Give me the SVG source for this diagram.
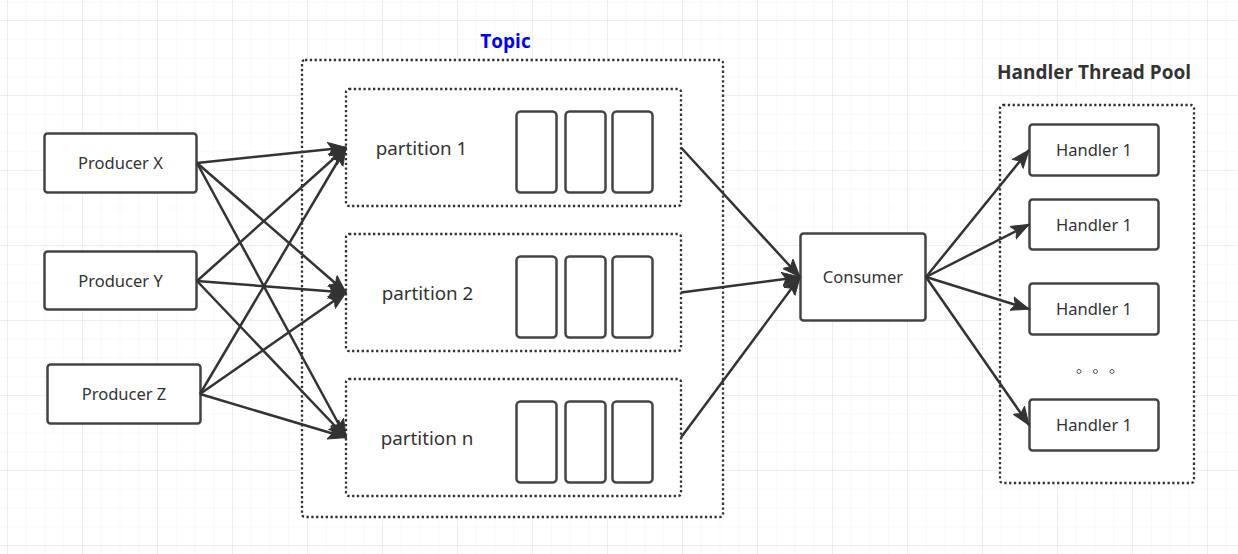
<svg xmlns="http://www.w3.org/2000/svg" width="1238" height="554" viewBox="0 0 1238 554">
<defs>
<pattern id="minor" x="7" y="1.25" width="18.75" height="18.75" patternUnits="userSpaceOnUse">
<path d="M0,0 V18.75 M0,0 H18.75" fill="none" stroke="#f1f1f1" stroke-width="1"/>
</pattern>
<pattern id="major" x="7" y="20" width="75" height="75" patternUnits="userSpaceOnUse">
<path d="M0,0 V75 M0,0 H75" fill="none" stroke="#e4e4e4" stroke-width="1"/>
</pattern>
<marker id="arr" markerUnits="userSpaceOnUse" markerWidth="20" markerHeight="16" refX="18" refY="7" orient="auto" viewBox="0 0 20 14">
<path d="M0,0 L18,7 L0,14 L4,7 z" fill="#333" stroke="#333" stroke-width="1"/>
</marker>
</defs>
<style>
.box{fill:#fff;stroke:#444;stroke-width:2.5}
.dot{fill:#fff;stroke:#333;stroke-width:2.3;stroke-dasharray:2.3 2.5}
.cell{fill:#fff;stroke:#444;stroke-width:2.5}
.lbl{font-family:"Noto Sans","Open Sans",sans-serif;font-size:16.5px;fill:#333;text-anchor:middle}
.plbl{font-family:"Noto Sans","Open Sans",sans-serif;font-size:18.8px;fill:#333;text-anchor:middle}
.title{font-family:"Open Sans","Noto Sans",sans-serif;font-size:19px;font-weight:bold;text-anchor:middle}
.edge{fill:none;stroke:#333;stroke-width:2.5;marker-end:url(#arr)}
</style>
<rect width="1238" height="554" fill="#fff"/>
<rect width="1238" height="554" fill="url(#minor)"/>
<rect width="1238" height="554" fill="url(#major)"/>

<g id="topic">
<rect class="dot" x="302" y="60" width="421" height="457" rx="3"/>
<text class="title" x="505.5" y="48" fill="#0000ff">Topic</text>
</g>
<g id="pool">
<rect class="dot" x="1000" y="105" width="194" height="378" rx="3"/>
<text class="title" x="1094" y="79" fill="#333">Handler Thread Pool</text>
</g>

<g id="partition1">
<rect class="dot" x="346" y="89" width="335" height="117" rx="3"/>
<text class="plbl" x="421.5" y="155">partition 1</text>
<rect class="cell" x="516.5" y="111.5" width="40" height="81" rx="4"/>
<rect class="cell" x="565.5" y="111.5" width="40" height="81" rx="4"/>
<rect class="cell" x="612.5" y="111.5" width="40" height="81" rx="4"/>
</g>
<g id="partition2">
<rect class="dot" x="346" y="234" width="335" height="117" rx="3"/>
<text class="plbl" x="427.5" y="300">partition 2</text>
<rect class="cell" x="516.5" y="256.5" width="40" height="81" rx="4"/>
<rect class="cell" x="565.5" y="256.5" width="40" height="81" rx="4"/>
<rect class="cell" x="612.5" y="256.5" width="40" height="81" rx="4"/>
</g>
<g id="partitionn">
<rect class="dot" x="346" y="379" width="335" height="117" rx="3"/>
<text class="plbl" x="427" y="445">partition n</text>
<rect class="cell" x="516.5" y="401.5" width="40" height="81" rx="4"/>
<rect class="cell" x="565.5" y="401.5" width="40" height="81" rx="4"/>
<rect class="cell" x="612.5" y="401.5" width="40" height="81" rx="4"/>
</g>

<g id="producerX">
<rect class="box" x="44.5" y="133.5" width="152" height="59" rx="3"/>
<text class="lbl" x="120.5" y="169">Producer X</text>
</g>
<g id="producerY">
<rect class="box" x="44.5" y="251.5" width="152" height="58" rx="3"/>
<text class="lbl" x="120.5" y="286.5">Producer Y</text>
</g>
<g id="producerZ">
<rect class="box" x="47.5" y="364.5" width="153" height="59" rx="3"/>
<text class="lbl" x="124" y="400">Producer Z</text>
</g>

<g id="consumer">
<rect class="box" x="800.5" y="233.5" width="125" height="87" rx="3"/>
<text class="lbl" x="863" y="283">Consumer</text>
</g>

<g id="handler1">
<rect class="box" x="1029.5" y="124.5" width="129" height="51" rx="3"/>
<text class="lbl" x="1094" y="155.5">Handler 1</text>
</g>
<g id="handler2">
<rect class="box" x="1029.5" y="199.5" width="129" height="50" rx="3"/>
<text class="lbl" x="1094" y="230.5">Handler 1</text>
</g>
<g id="handler3">
<rect class="box" x="1029.5" y="283.5" width="129" height="51" rx="3"/>
<text class="lbl" x="1094" y="314.5">Handler 1</text>
</g>
<g id="handler4">
<rect class="box" x="1029.5" y="399.5" width="129" height="51" rx="3"/>
<text class="lbl" x="1094" y="430.5">Handler 1</text>
</g>
<g id="ellipsis">
<circle cx="1079" cy="371.5" r="2" fill="none" stroke="#555" stroke-width="1"/>
<circle cx="1095.5" cy="371.5" r="2" fill="none" stroke="#555" stroke-width="1"/>
<circle cx="1112" cy="371.5" r="2" fill="none" stroke="#555" stroke-width="1"/>
</g>

<g id="connectors">
<line class="edge" x1="197" y1="163" x2="346" y2="147.5"/>
<line class="edge" x1="197" y1="163" x2="346" y2="292.5"/>
<line class="edge" x1="197" y1="163" x2="346" y2="437.5"/>
<line class="edge" x1="197" y1="281" x2="346" y2="147.5"/>
<line class="edge" x1="197" y1="281" x2="346" y2="292.5"/>
<line class="edge" x1="197" y1="281" x2="346" y2="437.5"/>
<line class="edge" x1="200" y1="394" x2="346" y2="147.5"/>
<line class="edge" x1="200" y1="394" x2="346" y2="292.5"/>
<line class="edge" x1="200" y1="394" x2="346" y2="437.5"/>
<line class="edge" x1="681" y1="147.5" x2="800" y2="277"/>
<line class="edge" x1="681" y1="292.5" x2="800" y2="277"/>
<line class="edge" x1="681" y1="437.5" x2="800" y2="277"/>
<line class="edge" x1="926" y1="277" x2="1029" y2="150"/>
<line class="edge" x1="926" y1="277" x2="1029" y2="224.5"/>
<line class="edge" x1="926" y1="277" x2="1029" y2="309"/>
<line class="edge" x1="926" y1="277" x2="1029" y2="425"/>
</g>
</svg>
